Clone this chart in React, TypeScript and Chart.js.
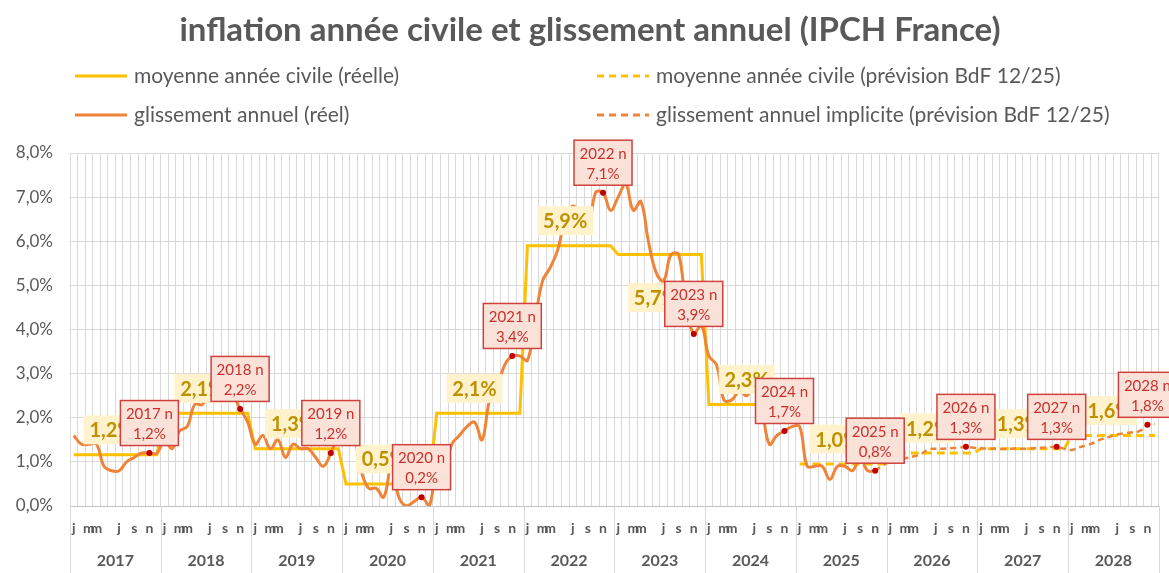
import React, { useEffect, useRef } from 'react';
import { Chart, registerables } from 'chart.js';

Chart.register(...registerables);

const FONT = 'Lato, "Open Sans", sans-serif';
const GRAY = '#595959';

const title = 'inflation année civile et glissement annuel (IPCH France)';
const legendLabels = [
  'moyenne année civile (réelle)',
  'glissement annuel (réel)',
  'moyenne année civile (prévision BdF 12/25)',
  'glissement annuel implicite (prévision BdF 12/25)',
];

const years = [2017, 2018, 2019, 2020, 2021, 2022, 2023, 2024, 2025, 2026, 2027, 2028];
const monthLetters = ['j', '', 'm', 'm', '', '', 'j', '', 's', '', 'n', ''];
const yTicks = [0, 1, 2, 3, 4, 5, 6, 7, 8];

// moyenne année civile (2017-2024 réel, 2025-2028 prévision)
const annualAverage = [1.16, 2.1, 1.3, 0.5, 2.1, 5.9, 5.7, 2.3, 0.95, 1.2, 1.3, 1.6];
const lastObservedYear = 2024;
const annualLabelBelow = [2023];

// glissement annuel mensuel observé, janv. 2017 -> nov. 2025
const yoyObserved = [
  1.6, 1.4, 1.4, 1.4, 0.9, 0.8, 0.8, 1.0, 1.1, 1.2, 1.2, 1.2,
  1.5, 1.3, 1.7, 1.8, 2.3, 2.3, 2.6, 2.6, 2.5, 2.5, 2.2, 1.9,
  1.4, 1.6, 1.3, 1.5, 1.1, 1.4, 1.3, 1.3, 1.1, 0.9, 1.2, 1.6,
  1.7, 1.6, 0.8, 0.4, 0.4, 0.2, 0.9, 0.2, 0.0, 0.1, 0.2, 0.0,
  0.8, 0.8, 1.4, 1.6, 1.8, 1.9, 1.5, 2.4, 2.7, 3.2, 3.4, 3.4,
  3.3, 4.2, 5.1, 5.4, 5.8, 6.5, 6.8, 6.6, 6.2, 7.1, 7.1, 6.7,
  7.0, 7.3, 6.7, 6.9, 6.0, 5.3, 5.1, 5.7, 5.7, 4.5, 3.9, 4.1,
  3.4, 3.2, 2.4, 2.4, 2.6, 2.5, 2.7, 2.2, 1.4, 1.6, 1.7, 1.8,
  1.8, 0.9, 0.9, 0.9, 0.6, 0.9, 0.9, 0.8, 1.1, 0.8, 0.8,
];

// glissement annuel implicite (prévision), nov. 2025 -> déc. 2028
const forecastStartIndex = 106;
const yoyForecast = [
  0.8, 0.92,
  1.0, 1.05, 1.08, 1.12, 1.17, 1.28, 1.3, 1.3, 1.31, 1.32, 1.34, 1.32,
  1.31, 1.3, 1.3, 1.29, 1.3, 1.3, 1.3, 1.31, 1.32, 1.33, 1.34, 1.3,
  1.27, 1.33, 1.38, 1.44, 1.52, 1.57, 1.62, 1.65, 1.67, 1.7, 1.84, 1.86,
];

const YELLOW = '#ffc000';
const ORANGE = '#ef8438';

const fmt = (v: number) => (Math.round(v * 10) / 10).toFixed(1).replace('.', ',') + '%';

const labels = years.flatMap((y) => monthLetters.map((_, k) => `${y}-${k + 1}`));

const avgObservedData = labels.map((_, i) => {
  const k = Math.floor(i / 12);
  return years[k] <= lastObservedYear ? annualAverage[k] : null;
});
const avgForecastData = labels.map((_, i) => {
  const k = Math.floor(i / 12);
  return years[k] > lastObservedYear ? annualAverage[k] : null;
});
const yoyObservedData = labels.map((_, i) => (i < yoyObserved.length ? yoyObserved[i] : null));
const yoyForecastData = labels.map((_, i) =>
  i >= forecastStartIndex ? yoyForecast[i - forecastStartIndex] : null
);
const yoyAt = (i: number) => (i < yoyObserved.length ? yoyObserved[i] : yoyForecast[i - forecastStartIndex]);

const decorations = {
  id: 'decorations',
  afterDatasetsDraw(chart: any) {
    const { ctx, scales } = chart;
    const x = scales.x;
    const y = scales.y;
    ctx.save();
    // étiquettes moyenne annuelle
    years.forEach((yr, k) => {
      const v = annualAverage[k];
      const cx = x.getPixelForValue(k * 12 + 5);
      const ly = y.getPixelForValue(v);
      const cy = annualLabelBelow.includes(yr) ? ly + 43 : ly - 25;
      ctx.fillStyle = '#fff2cc';
      ctx.fillRect(cx - 28, cy - 14.5, 56, 29);
      ctx.fillStyle = '#bf9000';
      ctx.font = `bold 20px ${FONT}`;
      ctx.textAlign = 'center';
      ctx.textBaseline = 'middle';
      ctx.fillText(fmt(v), cx, cy + 1);
    });
    // étiquettes novembre
    years.forEach((yr, k) => {
      const i = k * 12 + 10;
      const v = yoyAt(i);
      const px = x.getPixelForValue(i);
      const py = y.getPixelForValue(v);
      const cx = px;
      const cy = py - 30;
      ctx.fillStyle = '#fbe2d9';
      ctx.fillRect(cx - 29, cy - 22.5, 58, 45);
      ctx.strokeStyle = '#d0413d';
      ctx.lineWidth = 1.5;
      ctx.strokeRect(cx - 29, cy - 22.5, 58, 45);
      ctx.fillStyle = '#c9302c';
      ctx.font = `15px ${FONT}`;
      ctx.textAlign = 'center';
      ctx.textBaseline = 'middle';
      ctx.fillText(`${yr} n`, cx, cy - 9);
      ctx.fillText(fmt(v), cx, cy + 11);
    });
    ctx.restore();
  },
  afterDraw(chart: any) {
    const { ctx, scales, chartArea } = chart;
    const x = scales.x;
    const H = chart.height;
    const cw = x.getPixelForValue(1) - x.getPixelForValue(0);
    ctx.save();
    // séparateurs d'années et libellés
    ctx.strokeStyle = '#d9d9d9';
    ctx.lineWidth = 1;
    for (let k = 0; k <= years.length; k++) {
      const bx = Math.round(x.getPixelForValue(k * 12) - cw / 2) + 0.5;
      ctx.beginPath();
      ctx.moveTo(bx, chartArea.bottom);
      ctx.lineTo(bx, H);
      ctx.stroke();
    }
    ctx.fillStyle = GRAY;
    ctx.font = `bold 16px ${FONT}`;
    ctx.textAlign = 'center';
    ctx.textBaseline = 'middle';
    years.forEach((yr, k) => {
      const cx = (x.getPixelForValue(k * 12) + x.getPixelForValue(k * 12 + 11)) / 2;
      ctx.fillText(String(yr), cx, 561);
    });
    // titre
    ctx.font = `bold 33px ${FONT}`;
    ctx.fillText(title, 590, 30);
    // légende
    const items = [
      { label: legendLabels[0], color: YELLOW, dash: [], x: 75, y: 76 },
      { label: legendLabels[1], color: ORANGE, dash: [], x: 75, y: 115 },
      { label: legendLabels[2], color: YELLOW, dash: [7, 5], x: 597, y: 76 },
      { label: legendLabels[3], color: ORANGE, dash: [7, 5], x: 597, y: 115 },
    ];
    items.forEach((it) => {
      ctx.strokeStyle = it.color;
      ctx.lineWidth = 3;
      ctx.setLineDash(it.dash);
      ctx.beginPath();
      ctx.moveTo(it.x, it.y);
      ctx.lineTo(it.x + 52, it.y);
      ctx.stroke();
      ctx.setLineDash([]);
      ctx.fillStyle = GRAY;
      ctx.font = `21px ${FONT}`;
      ctx.textAlign = 'left';
      ctx.textBaseline = 'middle';
      ctx.fillText(it.label, it.x + 59, it.y);
    });
    ctx.restore();
  },
};

export default function App() {
  const ref = useRef<HTMLCanvasElement | null>(null);
  useEffect(() => {
    if (!ref.current) return;
    const chart = new Chart(ref.current, {
      type: 'line',
      data: {
        labels,
        datasets: [
          {
            label: legendLabels[1],
            data: yoyObservedData,
            borderColor: ORANGE,
            borderWidth: 3,
            tension: 0.4,
            pointRadius: (c: any) => (c.dataIndex % 12 === 10 ? 3 : 0),
            pointBackgroundColor: '#c00000',
            pointBorderWidth: 0,
            order: 0,
          },
          {
            label: legendLabels[3],
            data: yoyForecastData,
            borderColor: ORANGE,
            borderWidth: 2.5,
            borderDash: [6, 4],
            tension: 0.4,
            pointRadius: (c: any) =>
              c.dataIndex % 12 === 10 && c.dataIndex > forecastStartIndex ? 3 : 0,
            pointBackgroundColor: '#c00000',
            pointBorderWidth: 0,
            order: 1,
          },
          {
            label: legendLabels[0],
            data: avgObservedData,
            borderColor: YELLOW,
            borderWidth: 3,
            tension: 0,
            pointRadius: 0,
            order: 2,
          },
          {
            label: legendLabels[2],
            data: avgForecastData,
            borderColor: YELLOW,
            borderWidth: 3,
            borderDash: [8, 5],
            tension: 0,
            pointRadius: 0,
            order: 3,
          },
        ],
      },
      options: {
        responsive: false,
        animation: false,
        events: [],
        layout: { padding: { top: 153, right: 9, bottom: 0, left: 0 } },
        plugins: { legend: { display: false }, title: { display: false }, tooltip: { enabled: false } },
        scales: {
          x: {
            type: 'category',
            offset: true,
            grid: { offset: true, color: '#d9d9d9', lineWidth: 1, drawTicks: false },
            border: { color: '#bfbfbf' },
            ticks: {
              autoSkip: false,
              maxRotation: 0,
              minRotation: 0,
              padding: 14,
              color: GRAY,
              font: { family: FONT, size: 14, weight: 'bold' },
              callback: (_v: any, i: number) => monthLetters[i % 12],
            },
            afterFit: (s: any) => {
              s.height = 67;
            },
          },
          y: {
            min: yTicks[0],
            max: yTicks[yTicks.length - 1],
            afterBuildTicks: (s: any) => {
              s.ticks = yTicks.map((v) => ({ value: v }));
            },
            grid: { color: '#d9d9d9', lineWidth: 1, drawTicks: false },
            border: { display: false },
            ticks: {
              padding: 17,
              color: GRAY,
              font: { family: FONT, size: 17 },
              callback: (v: any) => Number(v).toFixed(1).replace('.', ',') + '%',
            },
            afterFit: (s: any) => {
              s.width = 70;
            },
          },
        },
      },
      plugins: [decorations],
    } as any);
    return () => chart.destroy();
  }, []);
  return (
    <div style={{ position: 'fixed', left: 0, top: 0, width: 1169, height: 573, background: '#fff' }}>
      <canvas ref={ref} width={1169} height={573} />
    </div>
  );
}
